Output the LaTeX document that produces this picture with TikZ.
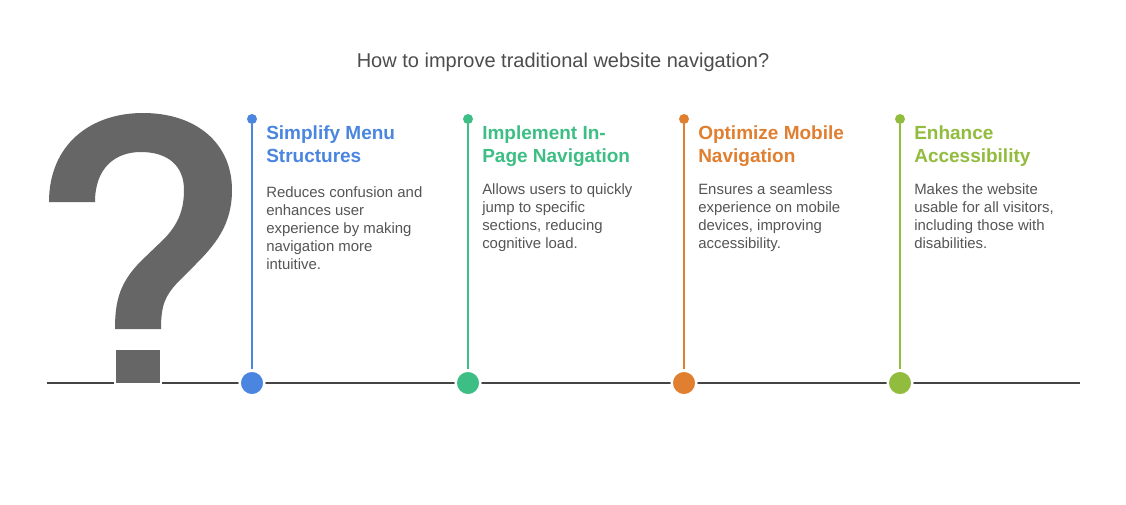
\documentclass[tikz,border=0pt]{standalone}
\usepackage{fontspec}
\setmainfont{Liberation Sans}
\definecolor{cblue}{HTML}{4A85E0}
\definecolor{cgreen}{HTML}{3DBE84}
\definecolor{corange}{HTML}{E07F30}
\definecolor{clime}{HTML}{92BC3E}
\definecolor{bodygray}{HTML}{555555}
\definecolor{titlegray}{HTML}{4D4D4D}
\definecolor{axisgray}{HTML}{444444}
\definecolor{qgray}{HTML}{666666}
\newcommand{\firstlinebox}[1]{\parbox[t]{6cm}{\raggedright #1}}
\begin{document}
\begin{tikzpicture}[x=0.75pt,y=-0.75pt,
  titlestyle/.style={font=\fontsize{15pt}{18pt}\selectfont, text=titlegray, inner sep=0pt, anchor=base},
  headstyle/.style={font=\fontsize{14.25pt}{17.6pt}\selectfont\bfseries, inner sep=0pt, anchor=base west},
  bodystyle/.style={font=\fontsize{11.2pt}{13.6pt}\selectfont, text=bodygray, inner sep=0pt, anchor=base west},
  topdot/.style={circle, fill=#1, inner sep=0pt, minimum size=7.5pt},
  bigdot/.style={circle, fill=#1, draw=white, line width=1.8pt, inner sep=0pt, minimum size=18.5pt},
  stem/.style={draw=#1, line width=1.5pt},
  axis/.style={draw=axisgray, line width=1.5pt}
]
\fill[white] (0,0) rectangle (1126,504);
\useasboundingbox (0,0) rectangle (1126,504);

\node[titlestyle] (title) at (563,67) {How to improve traditional website navigation?};

\coordinate (L) at (47,383);
\coordinate (R) at (1080,383);
\draw[axis] (L) -- (R);

% question mark
\fill[qgray] (49,202)
  .. controls (49,145) and (90,113) .. (143,113)
  .. controls (196,113) and (232,143) .. (232,190)
  .. controls (232,225) and (215,245) .. (195,265)
  -- (178,282)
  .. controls (165,296) and (161,305) .. (161,329)
  -- (115,329)
  .. controls (115,300) and (120,283) .. (140,262)
  -- (165,238)
  .. controls (178,224) and (184,210) .. (184,190)
  .. controls (184,165) and (167,152) .. (141,152)
  .. controls (115,152) and (95,168) .. (95,202)
  -- cycle;
\filldraw[fill=qgray, draw=white, line width=1pt] (115,349) rectangle (161,384);

\foreach \i/\x/\col/\by/\head/\body in {
  1/252/cblue/197/{Simplify Menu\\Structures}/{Reduces confusion and\\enhances user\\experience by making\\navigation more\\intuitive.},
  2/468/cgreen/194/{Implement In-\\Page Navigation}/{Allows users to quickly\\jump to specific\\sections, reducing\\cognitive load.},
  3/684/corange/194/{Optimize Mobile\\Navigation}/{Ensures a seamless\\experience on mobile\\devices, improving\\accessibility.},
  4/900/clime/194/{Enhance\\Accessibility}/{Makes the website\\usable for all visitors,\\including those with\\disabilities.}}
{
  \node[topdot=\col] (t\i) at (\x,119) {};
  \node[bigdot=\col] (c\i) at (\x,383) {};
  \draw[stem=\col] (t\i) -- (c\i);
  \node[headstyle, text=\col] (h\i) at (\x+14,139) {\firstlinebox{\head}};
  \node[bodystyle] (b\i) at (\x+14,\by) {\firstlinebox{\body}};
}
\end{tikzpicture}
\end{document}
